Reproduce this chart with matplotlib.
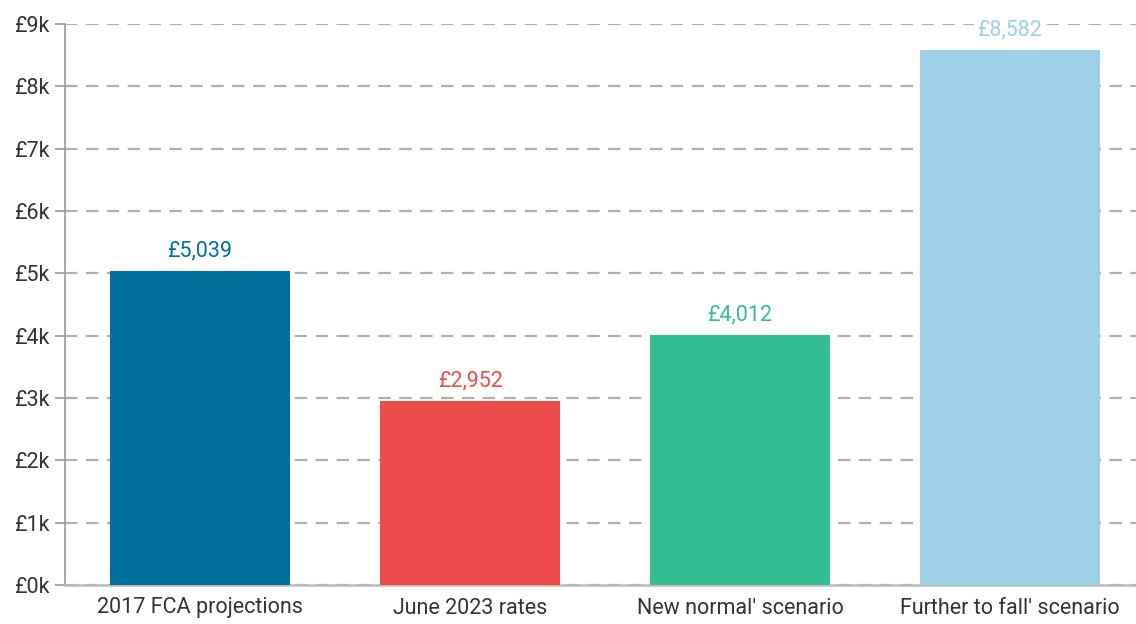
import matplotlib
matplotlib.use("Agg")
import matplotlib.pyplot as plt
from matplotlib.ticker import FuncFormatter

plt.rcParams['font.family'] = ['Roboto', 'DejaVu Sans']

categories = ["2017 FCA projections", "June 2023 rates", "New normal' scenario", "Further to fall' scenario"]
values = [5039, 2952, 4012, 8582]
colors = ["#00719c", "#f04b4c", "#33bf93", "#9dd0e6"]
yticks = [0, 1000, 2000, 3000, 4000, 5000, 6000, 7000, 8000, 9000]

fig = plt.figure(figsize=(11.36, 6.24), dpi=100)
ax = fig.add_axes([65 / 1136, 1 - 585 / 624, 1 - 65 / 1136, (585 - 24) / 624])

x = range(len(categories))
ax.bar(x, values, width=0.667, color=colors, zorder=3)

for xi, v, c in zip(x, values, colors):
    ax.text(xi, v + 150, f"£{v:,}", ha="center", va="bottom", color=c,
            fontsize=15.5, zorder=4,
            bbox=dict(boxstyle="square,pad=0.15", facecolor="white", edgecolor="none"))

ax.set_xlim(-0.5, 3.467)
ax.set_ylim(0, 9000)
ax.set_yticks(yticks)
ax.yaxis.set_major_formatter(FuncFormatter(lambda v, p: f"£{int(v/1000)}k"))
ax.set_xticks(list(x))
ax.set_xticklabels(categories)

ax.grid(axis="y", color="#b0b0b0", linestyle=(0, (5.6, 3.8)), linewidth=1.6, zorder=0)
ax.grid(axis="x", visible=False)

for s in ["top", "right"]:
    ax.spines[s].set_visible(False)
ax.spines["left"].set_color("#999999")
ax.spines["left"].set_linewidth(1.2)
ax.spines["bottom"].set_color("#bbbbbb")
ax.spines["bottom"].set_linewidth(1.8)

ax.tick_params(axis="y", length=7, color="#999999", width=1.2, labelsize=15.5,
               labelcolor="#333333", pad=4)
ax.tick_params(axis="x", length=0, labelsize=15.5, labelcolor="#333333", pad=9)

fig.savefig("out.png", dpi=100)
